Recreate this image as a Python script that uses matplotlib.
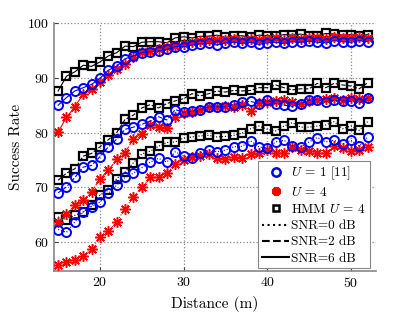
import numpy as np
import matplotlib
matplotlib.use("Agg")
from matplotlib import pyplot as plt
from matplotlib.lines import Line2D

plt.rcParams['font.family'] = 'serif'
plt.rcParams['font.serif'] = ['cmr10', 'DejaVu Serif']
plt.rcParams['mathtext.fontset'] = 'cm'
plt.rcParams['axes.formatter.use_mathtext'] = True

distance = np.arange(15, 53)

# SNR = 6 dB (solid)
u1_snr6 = [85.0, 86.4, 87.6, 88.2, 88.8, 89.9, 91.4, 92.1, 93.5, 94.0,
           94.6, 94.8, 94.9, 95.2, 95.7, 95.7, 96.0, 96.2, 96.3, 96.0,
           96.4, 96.5, 96.3, 96.5, 96.1, 96.4, 96.5, 96.3, 96.6, 96.5,
           96.7, 96.5, 96.4, 96.8, 96.6, 96.5, 96.8, 96.6]
u4_snr6 = [80.1, 82.8, 84.7, 87.1, 87.9, 89.3, 90.5, 91.7, 92.6, 93.8,
           94.8, 94.9, 95.2, 95.6, 95.9, 96.2, 96.5, 96.8, 96.9, 97.0,
           96.9, 97.1, 97.0, 97.1, 96.9, 97.1, 97.2, 97.0, 97.2, 97.1,
           97.3, 97.2, 97.1, 97.4, 97.3, 97.2, 97.4, 97.3]
hmm_snr6 = [87.6, 90.3, 91.1, 92.3, 92.1, 92.9, 94.0, 94.6, 95.8, 95.7,
            96.5, 96.6, 96.6, 96.4, 97.3, 97.5, 97.3, 97.6, 97.6, 97.8,
            97.4, 97.6, 97.7, 97.4, 97.8, 97.7, 97.6, 97.9, 97.8, 98.0,
            97.6, 97.7, 98.1, 98.0, 97.8, 97.9, 97.7, 97.9]

# SNR = 2 dB (dashed)
u1_snr2 = [69.0, 70.1, 71.8, 73.7, 74.0, 75.6, 77.4, 78.8, 80.6, 81.0,
           81.5, 82.1, 82.9, 82.3, 84.2, 83.7, 83.9, 84.2, 84.7, 84.7,
           84.7, 85.1, 85.6, 85.7, 85.3, 85.9, 85.3, 85.0, 84.8, 85.3,
           85.9, 86.0, 85.6, 85.9, 85.8, 85.7, 85.4, 86.3]
u4_snr2 = [63.7, 65.2, 66.7, 67.6, 69.2, 71.6, 73.1, 75.1, 76.3, 78.9,
           79.8, 81.4, 81.0, 80.9, 82.8, 83.5, 83.8, 84.1, 84.6, 84.7,
           84.8, 84.7, 85.0, 84.0, 85.4, 85.6, 85.7, 85.9, 85.5, 85.3,
           85.8, 86.0, 86.2, 86.3, 86.0, 86.4, 86.1, 86.3]
hmm_snr2 = [71.3, 72.6, 73.4, 75.7, 76.2, 77.4, 78.7, 80.0, 82.4, 83.2,
            84.5, 85.1, 84.5, 85.3, 85.8, 86.2, 87.1, 86.7, 87.1, 87.6,
            87.4, 87.7, 87.6, 87.7, 88.2, 88.2, 88.7, 88.2, 87.8, 88.0,
            88.0, 89.0, 88.2, 89.0, 88.7, 88.5, 88.0, 89.1]

# SNR = 0 dB (dotted)
u1_snr0 = [62.3, 61.8, 63.7, 65.5, 66.5, 67.3, 68.9, 70.4, 71.8, 72.6,
           73.6, 74.6, 75.3, 74.6, 76.5, 75.7, 75.3, 76.3, 76.8, 76.5,
           76.8, 77.4, 77.5, 78.5, 77.4, 77.1, 78.3, 78.6, 77.5, 77.4,
           78.3, 79.1, 78.3, 78.6, 77.9, 78.6, 77.5, 79.2]
u4_snr0 = [55.9, 56.4, 56.8, 57.4, 58.8, 60.9, 62.0, 63.7, 66.1, 68.3,
           70.0, 71.8, 71.9, 72.6, 74.2, 75.0, 75.6, 75.8, 76.1, 75.4,
           75.1, 75.6, 75.4, 76.1, 76.3, 76.8, 76.3, 76.3, 77.4, 76.8,
           76.7, 76.3, 76.3, 77.5, 77.1, 76.7, 76.8, 77.3]
hmm_snr0 = [64.6, 64.1, 64.9, 65.5, 66.7, 68.6, 69.5, 71.6, 72.8, 74.5,
            76.1, 76.6, 77.5, 78.2, 78.3, 79.0, 79.2, 79.4, 79.5, 79.2,
            79.3, 79.5, 79.9, 80.7, 81.2, 80.6, 80.3, 81.2, 81.8, 81.0,
            81.0, 81.2, 81.4, 82.0, 80.7, 81.2, 80.4, 82.0]

x_ticks = [20, 30, 40, 50]
y_ticks = [60, 70, 80, 90, 100]

blue = (0, 0, 1)
red = (1, 0, 0)
star = (8, 2, 0)

fig = plt.figure(figsize=(4.15, 3.12), dpi=100)
ax = fig.add_axes([0.130, 0.131, 0.776, 0.795])

series = [
    (u1_snr0, u4_snr0, hmm_snr0, ':'),
    (u1_snr2, u4_snr2, hmm_snr2, '--'),
    (u1_snr6, u4_snr6, hmm_snr6, '-'),
]
for u1, u4, hm, ls in series:
    ax.plot(distance, hm, ls=ls, color='k', lw=0.8, marker='s', ms=6,
            mfc='none', mew=1.6, zorder=3)
    ax.plot(distance, u4, ls=ls, color=red, lw=0.8, marker=star, ms=7.5,
            mew=1.1, zorder=4)
    ax.plot(distance, u1, ls=ls, color=blue, lw=0.8, marker='o', ms=6.5,
            mfc='none', mew=1.4, zorder=5)

ax.set_xlim(14.5, 53)
ax.set_ylim(54.7, 100)
ax.set_xticks(x_ticks)
ax.set_yticks(y_ticks)
ax.grid(True, ls=':', color='#888888', lw=0.9)
ax.set_axisbelow(True)
for s in ['top', 'right']:
    ax.spines[s].set_visible(False)
for s in ['left', 'bottom']:
    ax.spines[s].set_color('#888888')
    ax.spines[s].set_linewidth(1.2)
ax.tick_params(direction='in', length=3, labelsize=10, color='#444444')
ax.set_xlabel('Distance (m)', fontsize=11)
ax.set_ylabel('Success Rate', fontsize=11, labelpad=3)

handles = [
    Line2D([], [], ls='none', marker='o', color=blue, mfc='none', mew=1.8, ms=6),
    Line2D([], [], ls='none', marker=star, color=red, mew=2.2, ms=6.5),
    Line2D([], [], ls='none', marker='s', color='k', mfc='none', mew=1.8, ms=5),
    Line2D([], [], ls=':', color='k', lw=1.5),
    Line2D([], [], ls='--', color='k', lw=1.5),
    Line2D([], [], ls='-', color='k', lw=1.5),
]
labels = [r'$U$ = 1 [11]', r'$U$ = 4', r'HMM $U$ = 4',
          'SNR=0 dB', 'SNR=2 dB', 'SNR=6 dB']
leg = ax.legend(handles, labels, loc='lower right', fontsize=9.5,
                handlelength=2.1, handletextpad=0.15, borderpad=0.3,
                labelspacing=0.3, fancybox=False, framealpha=1,
                edgecolor='#888888', borderaxespad=0.2,
                bbox_to_anchor=(0.99, 0.0))
leg.get_frame().set_linewidth(0.8)

fig.savefig('out.png', dpi=100)
